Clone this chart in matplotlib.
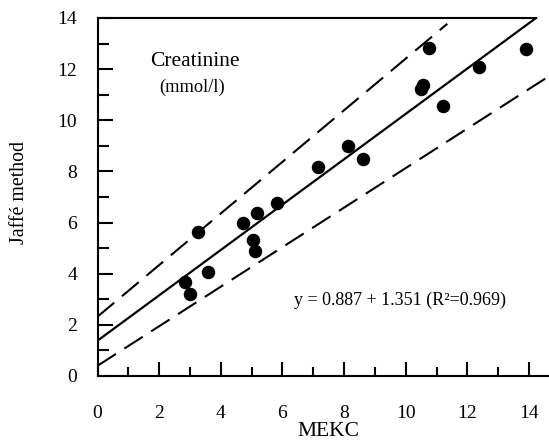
import matplotlib
matplotlib.use("Agg")
import matplotlib.pyplot as plt
import numpy as np
from matplotlib.ticker import MultipleLocator

# Data
mekc = [2.83, 2.99, 3.25, 3.57, 4.72, 5.03, 5.12, 5.18, 5.82, 7.15, 8.13, 8.62,
        10.49, 10.55, 10.77, 11.20, 12.37, 13.90]
jaffe = [3.69, 3.19, 5.64, 4.08, 5.98, 5.32, 4.90, 6.36, 6.75, 8.19, 9.01, 8.47,
         11.21, 11.38, 12.82, 10.57, 12.07, 12.78]

fit_intercept, fit_slope, fit_xmax = 1.38, 0.887, 14.24
upper_intercept, upper_slope, upper_xmax = 2.32, 1.009, 11.35
lower_intercept, lower_slope, lower_xmax = 0.40, 0.773, 14.65

xticks_major = [0, 2, 4, 6, 8, 10, 12, 14]
yticks_major = [0, 2, 4, 6, 8, 10, 12, 14]

plt.rcParams['font.family'] = ['Liberation Serif', 'DejaVu Serif']

W, H = 549, 442
fig = plt.figure(figsize=(W / 100, H / 100), dpi=100)
ax = fig.add_axes([97.5 / W, 66 / H, 451.5 / W, 358 / H])
ax.set_xlim(0, 14.65)
ax.set_ylim(0, 14)

# regression and band lines
xf = np.array([0, fit_xmax])
ax.plot(xf, fit_intercept + fit_slope * xf, color='black', lw=1.6)
xu = np.array([0, upper_xmax])
ax.plot(xu, upper_intercept + upper_slope * xu, color='black', lw=1.5,
        dashes=(10.5, 4.8))
xl = np.array([0, lower_xmax])
ax.plot(xl, lower_intercept + lower_slope * xl, color='black', lw=1.5,
        dashes=(10.5, 4.8))

ax.plot(mekc, jaffe, 'o', color='black', markersize=8.7, clip_on=False)

# spines
for s in ['top', 'right']:
    ax.spines[s].set_visible(False)
for s in ['left', 'bottom']:
    ax.spines[s].set_linewidth(1.5)
ax.axhline(14, xmin=0, xmax=fit_xmax / 14.65, color='black', lw=1.5, clip_on=False)

ax.set_xticks(xticks_major)
ax.set_yticks(yticks_major)
ax.xaxis.set_minor_locator(MultipleLocator(1))
ax.yaxis.set_minor_locator(MultipleLocator(1))
ax.tick_params(axis='x', which='major', direction='in', length=10, width=1.5,
               pad=21, labelsize=14)
ax.tick_params(axis='x', which='minor', direction='in', length=6.5, width=1.5)
ax.tick_params(axis='y', which='major', direction='in', length=11, width=1.5,
               pad=14.8, labelsize=14)
ax.tick_params(axis='y', which='minor', direction='in', length=8, width=1.5)

ax.set_xlabel('MEKC', fontsize=15.5, va='center')
ax.xaxis.set_label_coords((328 - 97.5) / 451.5, (376 - 431) / 358)
ax.set_ylabel('Jaffé method', fontsize=14.3, va='center')
ax.yaxis.set_label_coords((20 - 97.5) / 451.5, (376 - 193) / 358)

ax.text(3.16, 12.28, 'Creatinine', fontsize=15.5, ha='center', va='center')
ax.text(3.08, 11.3, '(mmol/l)', fontsize=13.2, ha='center', va='center')
ax.text(9.8, 2.97, 'y = 0.887 + 1.351 (R²=0.969)', fontsize=13,
        ha='center', va='center')

fig.savefig('out.png', dpi=100)
